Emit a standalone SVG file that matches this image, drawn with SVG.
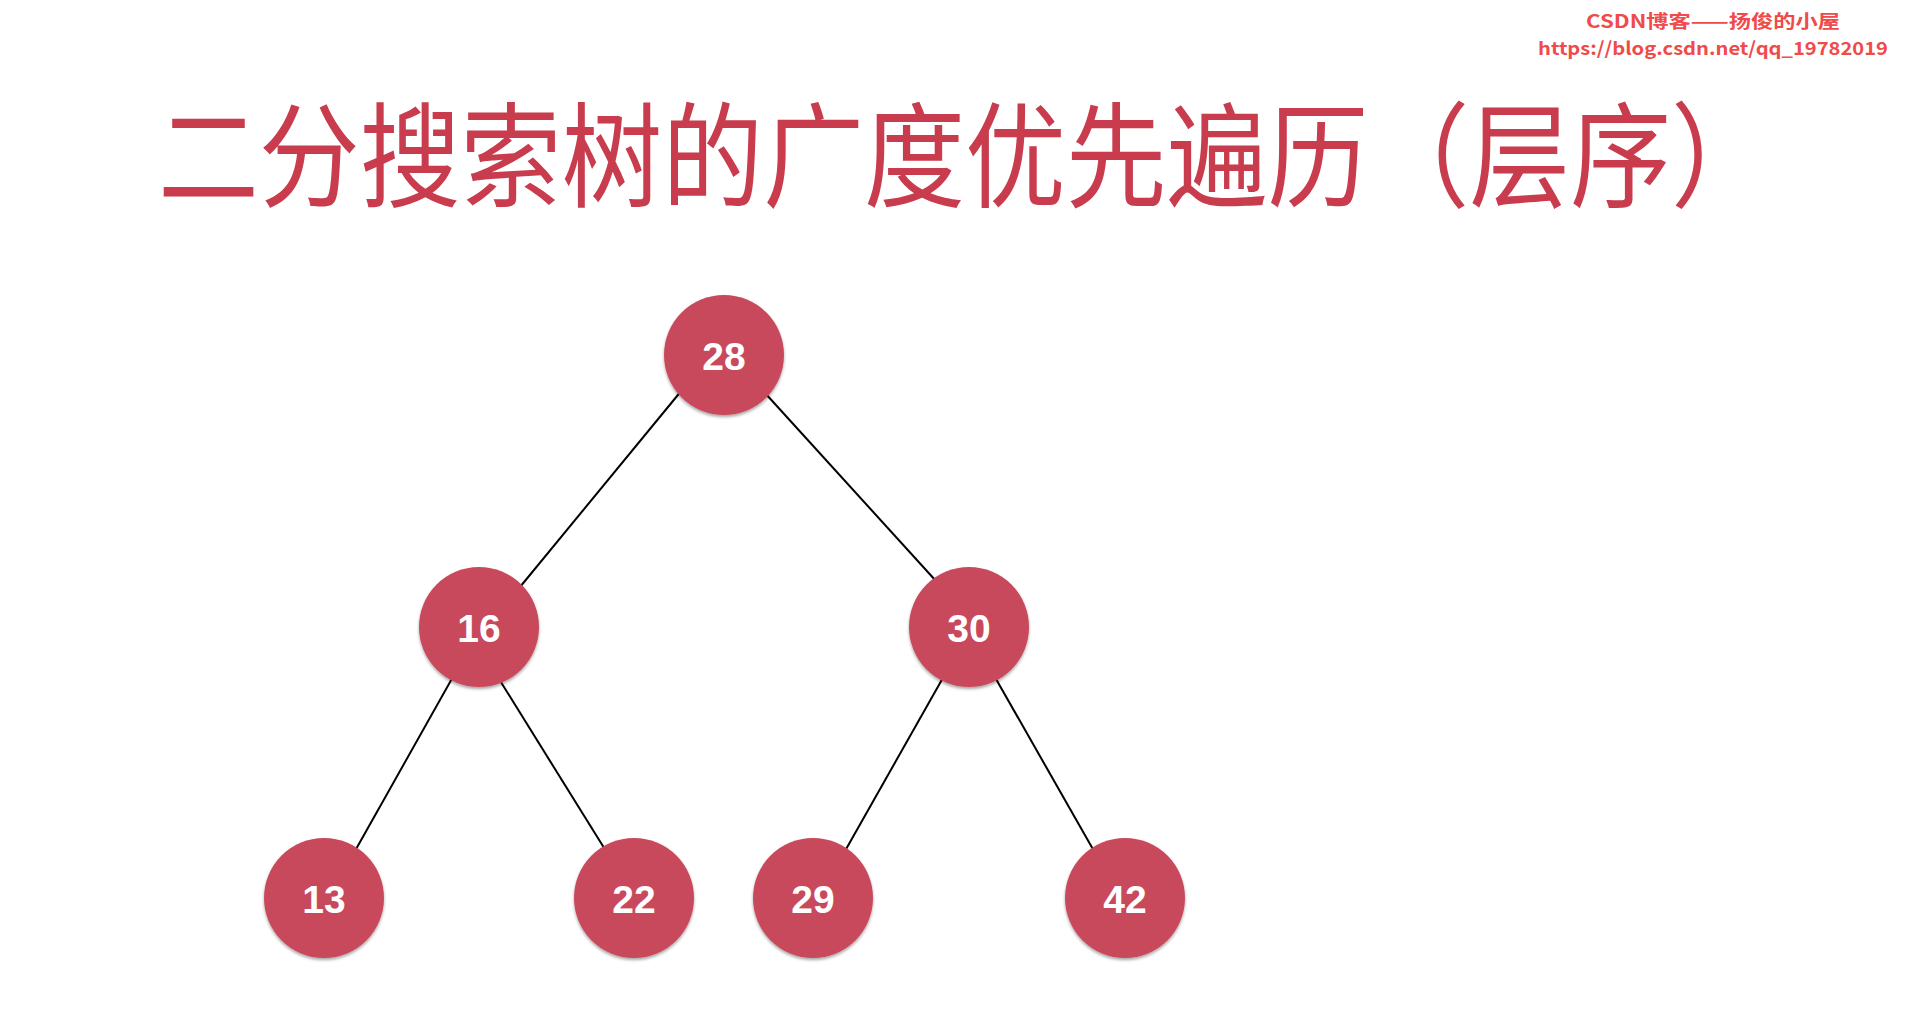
<svg xmlns="http://www.w3.org/2000/svg" width="1908" height="1015" viewBox="0 0 1908 1015">
<style>
.node circle{fill:#C84A5B;filter:url(#sh)}
.node text{fill:#fff;font-family:"Liberation Sans",Arial,sans-serif;font-weight:bold;font-size:39px;text-anchor:middle}
.edge{stroke:#000;stroke-width:2}
.wm{fill:#F04A4A;font-family:"Noto Sans CJK SC","Noto Sans",sans-serif;font-weight:bold;font-size:18px;text-anchor:middle}
</style>
<defs>
<filter id="sh" x="-20%" y="-20%" width="140%" height="150%">
<feDropShadow dx="0" dy="2" stdDeviation="1.5" flood-color="#000" flood-opacity="0.35"/>
</filter>
</defs>
<rect width="1908" height="1015" fill="#fff"/>
<g id="watermark">
<text class="wm" x="1713" y="28" textLength="254" lengthAdjust="spacingAndGlyphs">CSDN博客——扬俊的小屋</text>
<text class="wm" x="1713" y="55" textLength="350" lengthAdjust="spacingAndGlyphs">https://blog.csdn.net/qq_19782019</text>
</g>
<g id="title">
<text x="158" y="198" font-family="Noto Sans CJK SC, sans-serif" font-size="114" fill="#C93C4D" textLength="1614" lengthAdjust="spacingAndGlyphs">二分搜索树的广度优先遍历（层序）</text>
</g>
<g id="connectors">
<line class="edge" x1="682" y1="390" x2="520" y2="587"/>
<line class="edge" x1="765" y1="393" x2="936" y2="581"/>
<line class="edge" x1="454" y1="675" x2="355" y2="851"/>
<line class="edge" x1="499" y1="679" x2="606" y2="851"/>
<line class="edge" x1="944" y1="676" x2="845" y2="851"/>
<line class="edge" x1="996" y1="679" x2="1094" y2="851"/>
</g>
<g id="n28" class="node"><circle cx="724" cy="355" r="60"/><text x="724" y="370">28</text></g>
<g id="n16" class="node"><circle cx="479" cy="627" r="60"/><text x="479" y="642">16</text></g>
<g id="n30" class="node"><circle cx="969" cy="627" r="60"/><text x="969" y="642">30</text></g>
<g id="n13" class="node"><circle cx="324" cy="898" r="60"/><text x="324" y="913">13</text></g>
<g id="n22" class="node"><circle cx="634" cy="898" r="60"/><text x="634" y="913">22</text></g>
<g id="n29" class="node"><circle cx="813" cy="898" r="60"/><text x="813" y="913">29</text></g>
<g id="n42" class="node"><circle cx="1125" cy="898" r="60"/><text x="1125" y="913">42</text></g>
</svg>
